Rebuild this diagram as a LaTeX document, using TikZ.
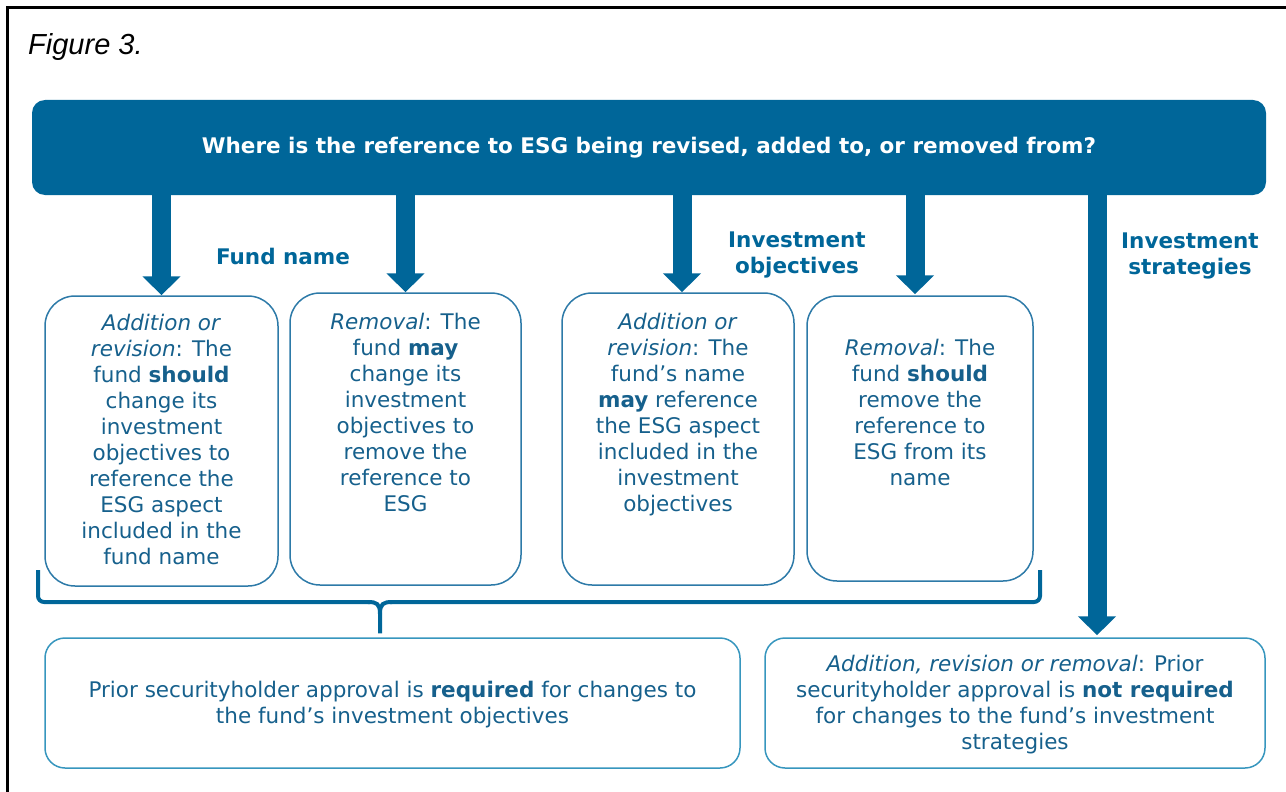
\documentclass[tikz,border=0pt]{standalone}
\usepackage{fontspec}
\setmainfont{DejaVu Sans}
\newfontfamily\figfont{Liberation Sans}
\usetikzlibrary{arrows.meta,calc}
\definecolor{esgblue}{RGB}{0,102,153}
\definecolor{textblue}{RGB}{22,96,140}
\definecolor{lineblue}{RGB}{45,122,168}
\definecolor{lineteal}{RGB}{55,150,190}
\begin{document}
\begin{tikzpicture}[x=1pt,y=-1pt,
  txt/.style={font=\fontsize{21.5}{26}\selectfont, text=textblue, align=center, inner sep=0pt},
  lbl/.style={txt, font=\fontsize{21.5}{26}\selectfont\bfseries, text=esgblue},
  box/.style={draw=lineblue, line width=1.5pt, rounded corners=30pt, inner sep=0pt},
  lowbox/.style={draw=lineteal, line width=1.5pt, rounded corners=20pt, inner sep=0pt},
  bigarrow/.style={draw=esgblue, line width=19pt, -{Triangle[width=37pt,length=19pt]}},
  brace/.style={draw=esgblue, line width=4pt}
]
\useasboundingbox (0,0) rectangle (1286,792);
\draw[line width=3pt] (7,800) -- (7,8) -- (1295,8);
\node[anchor=base west, inner sep=0pt, text=black, font=\figfont\itshape\fontsize{29}{32}\selectfont] (fig) at (28,55) {Figure 3.};

% banner
\node[fill=esgblue, rounded corners=13pt, minimum width=1234pt, minimum height=95pt, inner sep=0pt,
      text=white, font=\fontsize{21.5}{26}\selectfont\bfseries] (banner) at (649,147.5)
      {Where is the reference to ESG being revised, added to, or removed from?};

% boxes
\node[box, minimum width=233pt, minimum height=290pt] (b1) at (161.5,441) {};
\node[box, minimum width=231pt, minimum height=292pt] (b2) at (405.5,439) {};
\node[box, minimum width=232pt, minimum height=292pt] (b3) at (678,439) {};
\node[box, minimum width=226pt, minimum height=285pt] (b4) at (920,438.5) {};
\node[lowbox, minimum width=695pt, minimum height=130pt] (b5) at (392.5,703) {};
\node[lowbox, minimum width=500pt, minimum height=130pt] (b6) at (1015,703) {};

% texts
\node[txt, anchor=north] (t1) at (161.5,314) {\textit{Addition or}\\\textit{revision}: The\\fund \textbf{should}\\change its\\investment\\objectives to\\reference the\\ESG aspect\\included in the\\fund name};
\node[txt, anchor=north] (t2) at (405.5,313) {\textit{Removal}: The\\fund \textbf{may}\\change its\\investment\\objectives to\\remove the\\reference to\\ESG};
\node[txt, anchor=north] (t3) at (678,313) {\textit{Addition or}\\\textit{revision}: The\\fund’s name\\\textbf{may} reference\\the ESG aspect\\included in the\\investment\\objectives};
\node[txt, anchor=north] (t4) at (920,339) {\textit{Removal}: The\\fund \textbf{should}\\remove the\\reference to\\ESG from its\\name};
\node[txt, anchor=north] (t5) at (392.5,681) {Prior securityholder approval is \textbf{required} for changes to\\the fund’s investment objectives};
\node[txt, anchor=north] (t6) at (1015,655) {\textit{Addition, revision or removal}: Prior\\securityholder approval is \textbf{not required}\\for changes to the fund’s investment\\strategies};

% labels
\node[lbl, anchor=north] (l1) at (283,248) {Fund name};
\node[lbl, anchor=north] (l2) at (797,232) {Investment\\objectives};
\node[lbl, anchor=north] (l3) at (1190,233) {Investment\\strategies};

% arrows
\coordinate (s) at (1097,195);
\coordinate (a3) at (682,195);
\coordinate (a4) at (915,195);
\draw[bigarrow] (banner.south -| b1.north) -- (b1.north);
\draw[bigarrow] (banner.south -| b2.north) -- (b2.north);
\draw[bigarrow] (banner.south -| a3) -- (b3.north -| a3);
\draw[bigarrow] (banner.south -| a4) -- ($(b4.north -| a4)+(0,-1)$);
\draw[bigarrow] (banner.south -| s) -- ($(b6.north -| s)+(0,-2)$);

% brace
\coordinate (bt) at ($(b5.north -| 380,0)+(0,-4)$);
\draw[brace, rounded corners=6pt] (38,570) -- (38,602) -- (370,602);
\draw[brace, rounded corners=6pt] (390,602) -- (1040,602) -- (1040,570);
\draw[brace] (368,602) .. controls (377,602) and (380,604) .. (380,614) -- (bt);
\draw[brace] (392,602) .. controls (383,602) and (380,604) .. (380,614);
\end{tikzpicture}
\end{document}
